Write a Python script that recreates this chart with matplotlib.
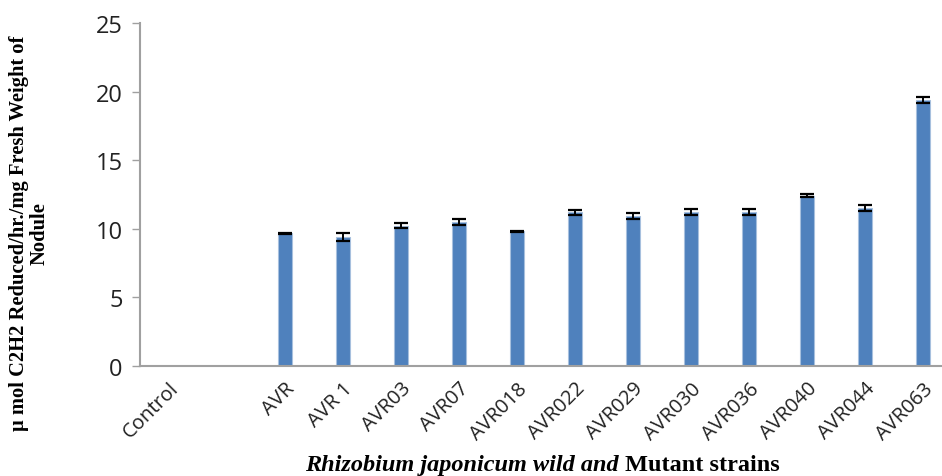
import matplotlib
matplotlib.use("Agg")
import matplotlib.pyplot as plt
import numpy as np

# strains (the empty slot is a blank category in the original sheet)
strains = ["Control", "", "AVR", "AVR 1", "AVR03", "AVR07", "AVR018", "AVR022",
           "AVR029", "AVR030", "AVR036", "AVR040", "AVR044", "AVR063"]
activity = [0, np.nan, 9.65, 9.4, 10.2, 10.5, 9.8, 11.2,
            10.9, 11.2, 11.2, 12.4, 11.5, 19.4]
err = [0, np.nan, 0.05, 0.3, 0.18, 0.22, 0.05, 0.17,
       0.22, 0.2, 0.2, 0.1, 0.25, 0.22]

fig = plt.figure(figsize=(9.42, 4.77), dpi=100)
ax = fig.add_axes([140 / 942, 1 - 366.7 / 477, 1 - 140 / 942, (366.7 - 24) / 477])

x = np.arange(len(strains))
vals = np.nan_to_num(activity)
e = np.nan_to_num(err)
show = [v > 0 for v in vals]
ax.bar(x[show], vals[show], width=0.24, color="#4F81BD", edgecolor="#A7C0DE",
       linewidth=0.8, zorder=2)
ax.errorbar(x[show], vals[show], yerr=e[show], fmt="none", ecolor="black",
            elinewidth=1.4, capsize=5.2, capthick=1.6, zorder=3)

ax.set_ylim(0, 25)
ax.set_xlim(-0.5, 13.33)
ax.set_yticks([0, 5, 10, 15, 20, 25])
ax.set_xticks(x)
ax.set_xticklabels(strains, rotation=45, ha="right", rotation_mode="anchor",
                   fontsize=14.5, family="Open Sans", color="#222222")
for lab in ax.get_yticklabels():
    lab.set_fontsize(17)
    lab.set_family("Open Sans")
    lab.set_color("#222222")
ax.tick_params(axis="x", length=0, pad=9)
ax.tick_params(axis="y", length=6, width=1, color="#A0A0A0", pad=6.5)
for s in ("top", "right"):
    ax.spines[s].set_visible(False)
for s in ("left", "bottom"):
    ax.spines[s].set_color("#A0A0A0")
    ax.spines[s].set_linewidth(1.5)

fig.text(0.031, 0.511, "\u00b5 mol C2H2 Reduced/hr./mg Fresh Weight of\nNodule",
         rotation=90, ha="center", va="center", multialignment="center",
         family="Liberation Serif", fontweight="bold", fontsize=14.8, linespacing=1.0)

fig.text(0.663, 0.012, "Rhizobium japonicum wild and ", ha="right", va="baseline",
         family="Liberation Serif", fontweight="bold", style="italic", fontsize=17.5)
fig.text(0.663, 0.012, "Mutant strains", ha="left", va="baseline",
         family="Liberation Serif", fontweight="bold", fontsize=17.5)

fig.savefig("out.png", dpi=100)
